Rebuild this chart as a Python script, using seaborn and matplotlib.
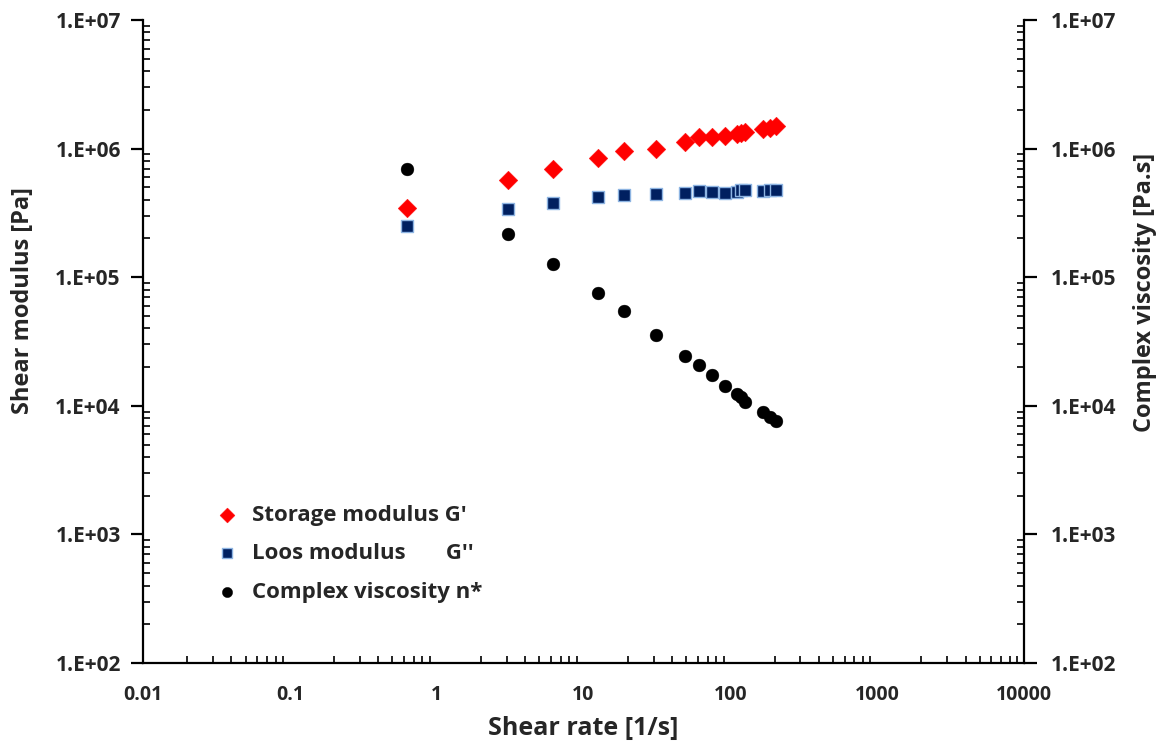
import numpy as np
import pandas as pd
import matplotlib
matplotlib.use("Agg")
import matplotlib.pyplot as plt
import matplotlib.ticker as mticker
import seaborn as sns

# ---- data ----
shear_rate = [0.628, 3.06, 6.2, 12.6, 18.9, 31.2, 49.5, 61.5, 74.5, 92.5, 111, 118, 126, 167, 186, 205]
storage_modulus = [3.47e5, 5.7e5, 6.9e5, 8.5e5, 9.5e5, 1.0e6, 1.13e6, 1.22e6, 1.22e6, 1.25e6,
                   1.29e6, 1.32e6, 1.35e6, 1.41e6, 1.44e6, 1.50e6]
loss_modulus = [2.51e5, 3.37e5, 3.8e5, 4.18e5, 4.33e5, 4.41e5, 4.49e5, 4.68e5, 4.6e5, 4.5e5,
                4.6e5, 4.75e5, 4.75e5, 4.7e5, 4.8e5, 4.8e5]
complex_viscosity = [6.9e5, 2.15e5, 1.27e5, 7.5e4, 5.5e4, 3.53e4, 2.44e4, 2.09e4, 1.73e4, 1.42e4,
                     1.24e4, 1.17e4, 1.08e4, 8.9e3, 8.2e3, 7.6e3]
x_ticks = [0.01, 0.1, 1, 10, 100, 1000, 10000]
x_tick_labels = ["0.01", "0.1", "1", "10", "100", "1000", "10000"]
y_ticks = [1e2, 1e3, 1e4, 1e5, 1e6, 1e7]
y_tick_labels = ["1.E+02", "1.E+03", "1.E+04", "1.E+05", "1.E+06", "1.E+07"]
series_names = ["Storage modulus G'", "Loos modulus       G''", "Complex viscosity n*"]

sns.set_theme(style="white")
plt.rcParams['font.family'] = ['Open Sans', 'DejaVu Sans']
plt.rcParams['font.weight'] = 'bold'

fig = plt.figure(figsize=(11.68, 7.54), dpi=100)
ax = fig.add_axes([143/1168, 1-663/754, (1024-143)/1168, (663-20)/754])

df = pd.DataFrame({"x": shear_rate, "g1": storage_modulus, "g2": loss_modulus, "eta": complex_viscosity})

sns.scatterplot(data=df, x="x", y="g1", ax=ax, marker="D", s=90, color="#FF0000",
                edgecolor="#FF0000", linewidth=0.3, label=series_names[0], zorder=3)
sns.scatterplot(data=df, x="x", y="g2", ax=ax, marker="s", s=70, color="#002060",
                edgecolor="#8DB4E2", linewidth=1.0, label=series_names[1], zorder=3)
sns.scatterplot(data=df, x="x", y="eta", ax=ax, marker="o", s=85, color="#000000",
                edgecolor="#000000", linewidth=0.3, label=series_names[2], zorder=3)

ax.set_xscale("log")
ax.set_yscale("log")
ax.set_xlim(0.01, 10000)
ax.set_ylim(1e2, 1e7)

for s in ["top", "right"]:
    ax.spines[s].set_visible(False)
for s in ["left", "bottom"]:
    ax.spines[s].set_color("black")
    ax.spines[s].set_linewidth(1.6)

ax.set_xticks(x_ticks)
ax.set_xticklabels(x_tick_labels)
ax.set_yticks(y_ticks)
ax.set_yticklabels(y_tick_labels)
ax.xaxis.set_minor_locator(mticker.LogLocator(base=10, subs=np.arange(2, 10), numticks=20))
ax.yaxis.set_minor_locator(mticker.LogLocator(base=10, subs=np.arange(2, 10), numticks=20))
ax.xaxis.set_minor_formatter(mticker.NullFormatter())
ax.yaxis.set_minor_formatter(mticker.NullFormatter())

ax.tick_params(axis="y", which="major", direction="out", length=9, width=1.6, labelsize=15, pad=7, color="black")
ax.tick_params(axis="y", which="minor", direction="in", length=5, width=1.2, color="black", left=True)
ax.tick_params(axis="x", which="major", direction="inout", length=12, width=1.6, labelsize=14, pad=10, color="black")
ax.tick_params(axis="x", which="minor", direction="in", length=5, width=1.2, color="black", bottom=True)
for lab in ax.get_xticklabels() + ax.get_yticklabels():
    lab.set_fontweight("bold")

ax.set_xlabel("Shear rate [1/s]", fontsize=18, fontweight="bold", labelpad=8)
ax.set_ylabel("Shear modulus [Pa]", fontsize=17, fontweight="bold")
ax.yaxis.set_label_coords((35-143)/881, (663-301)/643)

ax2 = ax.twinx()
ax2.set_yscale("log")
ax2.set_ylim(1e2, 1e7)
for s in ["top", "left", "bottom"]:
    ax2.spines[s].set_visible(False)
ax2.spines["right"].set_color("black")
ax2.spines["right"].set_linewidth(1.6)
ax2.set_yticks(y_ticks)
ax2.set_yticklabels(y_tick_labels)
ax2.yaxis.set_minor_locator(mticker.LogLocator(base=10, subs=np.arange(2, 10), numticks=20))
ax2.yaxis.set_minor_formatter(mticker.NullFormatter())
ax2.tick_params(axis="y", which="major", direction="out", length=9, width=1.6, labelsize=15, pad=10, color="black")
ax2.tick_params(axis="y", which="minor", direction="in", length=5, width=1.2, color="black", right=True)
for lab in ax2.get_yticklabels():
    lab.set_fontweight("bold")
ax2.set_ylabel("Complex viscosity [Pa.s]", fontsize=17, fontweight="bold")
ax2.yaxis.set_label_coords((1133-143)/881, (663-292)/643)
ax2.grid(False)
ax.grid(False)

leg = ax.legend(loc="upper left", bbox_to_anchor=(196/1168, 1-496/754), bbox_transform=fig.transFigure,
                frameon=False, fontsize=16, handletextpad=0.1, labelspacing=0.78, borderaxespad=0,
                markerscale=0.8)
for t in leg.get_texts():
    t.set_fontweight("bold")

fig.savefig("out.png", dpi=100)
